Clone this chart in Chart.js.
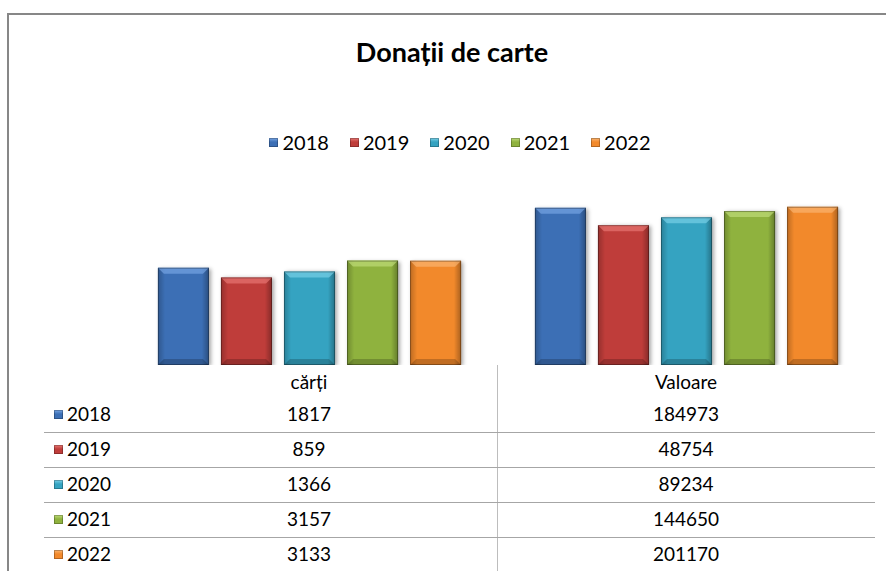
<!DOCTYPE html>
<html lang="ro">
<head>
    <meta charset="UTF-8">
    <title>Donații de carte</title>
    <script src="https://cdn.jsdelivr.net/npm/chart.js"></script>
    <style>
        body {
            margin: 0;
            width: 886px;
            height: 571px;
            overflow: hidden;
            background: white;
            font-family: "Lato", "Open Sans", sans-serif;
            color: #000;
            position: relative;
        }

        /* chart frame (right and bottom run off the picture) */
        .frame {
            position: absolute;
            left: 7px;
            top: 13px;
            width: 1000px;
            height: 1000px;
            border: 2px solid #878787;
            box-sizing: border-box;
        }

        .title {
            position: absolute;
            left: 0;
            width: 904px;
            top: 35px;
            text-align: center;
            font-size: 27px;
            font-weight: bold;
        }

        .legend {
            position: absolute;
            left: 8px;
            width: 904px;
            top: 130px;
            display: flex;
            justify-content: center;
            gap: 21px;
            font-size: 20px;
        }

        .legend span, .row-label {
            display: inline-flex;
            align-items: center;
        }

        .key {
            display: inline-block;
            width: 9px;
            height: 9px;
            margin-right: 4px;
            box-shadow: inset 0 0 0 1px rgba(0, 0, 0, 0.25);
        }

        .plot {
            position: absolute;
            left: 121px;
            top: 186px;
            width: 754px;
            height: 179px;
        }

        /* data table */
        .cell {
            position: absolute;
            font-size: 19px;
            text-align: center;
            line-height: 34px;
        }

        .hline {
            position: absolute;
            left: 44px;
            width: 831px;
            height: 1px;
            background: #a6a6a6;
        }

        .vline {
            position: absolute;
            left: 497px;
            top: 365px;
            width: 1px;
            height: 206px;
            background: #bdbdbd;
        }
    </style>
</head>
<body>
    <div class="frame"></div>
    <div class="title">Donații de carte</div>
    <div class="legend" id="legend"></div>
    <div class="plot"><canvas id="donatii"></canvas></div>
    <div class="vline"></div>
    <div id="table"></div>

    <script>
        const categories = ['cărți', 'Valoare'];
        const years = ['2018', '2019', '2020', '2021', '2022'];
        const cartiValues = [1817, 859, 1366, 3157, 3133];
        const valoareValues = [184973, 48754, 89234, 144650, 201170];
        const colors = ['#3c6fb5', '#bf3d3a', '#35a3c1', '#8fb23e', '#f2892b'];
        const lightColors = ['#7aa8e6', '#ea7a76', '#7dd3ea', '#c1de7c', '#fbb774'];

        // Excel style bevel: lighter top, darker edges, soft shadow
        const bevelPlugin = {
            id: 'bevel',
            beforeDatasetsDraw(chart) {
                const ctx = chart.ctx;
                ctx.save();
                ctx.shadowColor = 'rgba(0, 0, 0, 0.35)';
                ctx.shadowBlur = 4;
                ctx.shadowOffsetX = 2;
                ctx.shadowOffsetY = 1;
            },
            afterDatasetsDraw(chart) {
                const ctx = chart.ctx;
                ctx.restore();
                chart.data.datasets.forEach((ds, i) => {
                    chart.getDatasetMeta(i).data.forEach(bar => {
                        const l = bar.x - bar.width / 2, r = bar.x + bar.width / 2;
                        const t = bar.y, b = bar.base, bv = 6;
                        const side = ctx.createLinearGradient(l, 0, r, 0);
                        side.addColorStop(0, 'rgba(0,0,0,0.22)');
                        side.addColorStop(0.14, 'rgba(0,0,0,0)');
                        side.addColorStop(0.86, 'rgba(0,0,0,0)');
                        side.addColorStop(1, 'rgba(0,0,0,0.3)');
                        ctx.fillStyle = side;
                        ctx.fillRect(l, t, r - l, b - t);

                        ctx.beginPath();
                        ctx.moveTo(l, t); ctx.lineTo(r, t);
                        ctx.lineTo(r - bv, t + bv); ctx.lineTo(l + bv, t + bv);
                        ctx.closePath();
                        ctx.fillStyle = lightColors[i];
                        ctx.globalAlpha = 0.65;
                        ctx.fill();

                        ctx.beginPath();
                        ctx.moveTo(l, b); ctx.lineTo(r, b);
                        ctx.lineTo(r - bv, b - bv); ctx.lineTo(l + bv, b - bv);
                        ctx.closePath();
                        ctx.fillStyle = 'rgba(0,0,0,0.2)';
                        ctx.globalAlpha = 1;
                        ctx.fill();

                        ctx.strokeStyle = 'rgba(0,0,0,0.3)';
                        ctx.lineWidth = 1;
                        ctx.strokeRect(l + 0.5, t + 0.5, r - l - 1, b - t - 1);
                    });
                });
            }
        };

        new Chart(document.getElementById('donatii'), {
            type: 'bar',
            data: {
                labels: categories,
                datasets: years.map((y, i) => ({
                    label: y,
                    data: [cartiValues[i], valoareValues[i]],
                    backgroundColor: colors[i],
                    borderWidth: 0,
                    categoryPercentage: 0.836,
                    barPercentage: 0.81
                }))
            },
            options: {
                responsive: true,
                maintainAspectRatio: false,
                animation: false,
                layout: { padding: 0 },
                scales: {
                    x: { display: false },
                    y: { type: 'logarithmic', min: 1, max: 1000000, display: false }
                },
                plugins: {
                    legend: { display: false },
                    tooltip: { enabled: false }
                }
            },
            plugins: [bevelPlugin]
        });

        function keyStyle(i) {
            return `background: linear-gradient(to bottom, ${lightColors[i]}, ${colors[i]} 45%, ${colors[i]});`;
        }

        // legend
        const legend = document.getElementById('legend');
        years.forEach((y, i) => {
            legend.innerHTML += `<span><i class="key" style="${keyStyle(i)}"></i>${y}</span>`;
        });

        // data table under the plot
        const table = document.getElementById('table');
        const colCenters = [309, 686];
        let html = '';
        categories.forEach((c, j) => {
            html += `<div class="cell" style="left:${colCenters[j] - 150}px;width:300px;top:365px;">${c}</div>`;
        });
        years.forEach((y, i) => {
            const top = 397 + i * 35;
            html += `<div class="cell row-label" style="left:54px;top:${top}px;"><i class="key" style="${keyStyle(i)}"></i>${y}</div>`;
            [cartiValues[i], valoareValues[i]].forEach((v, j) => {
                html += `<div class="cell" style="left:${colCenters[j] - 150}px;width:300px;top:${top}px;">${v}</div>`;
            });
            if (i < years.length - 1) {
                html += `<div class="hline" style="top:${top + 35}px;"></div>`;
            }
        });
        table.innerHTML = html;
    </script>
</body>
</html>
